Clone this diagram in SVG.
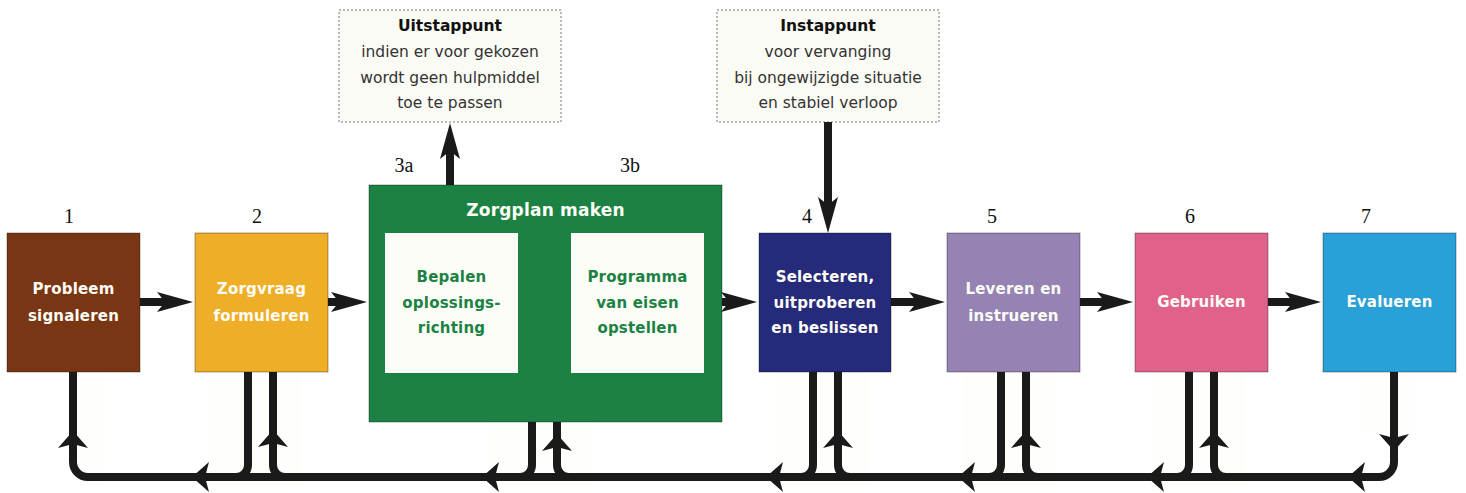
<svg xmlns="http://www.w3.org/2000/svg" width="1466" height="493" viewBox="0 0 1466 493">
<style>
  .box{stroke:#000;stroke-opacity:.35;stroke-width:1}
  .lbl{font-family:"DejaVu Sans","Verdana",sans-serif;font-weight:bold;font-size:15px;fill:#fdfdf6;text-anchor:middle;letter-spacing:0.2px}
  .glbl{font-family:"DejaVu Sans","Verdana",sans-serif;font-weight:bold;font-size:15px;fill:#1b8244;text-anchor:middle;letter-spacing:0.2px}
  .num{font-family:"Liberation Serif","Times New Roman",serif;font-size:20px;fill:#111;text-anchor:middle}
  .call{fill:#fbfbf5;stroke:#777;stroke-width:1;stroke-dasharray:2 2}
  .ct{font-family:"DejaVu Sans","Verdana",sans-serif;font-size:15.5px;fill:#333;text-anchor:middle}
  .cb{font-family:"DejaVu Sans","Verdana",sans-serif;font-size:15.5px;font-weight:bold;fill:#111;text-anchor:middle}
  .ln{fill:none;stroke:#1a1a1a;stroke-width:8}
  .hd{fill:#1a1a1a}
  .glow{fill:#fefefa}
</style>
<defs>
  <marker id="big" markerUnits="userSpaceOnUse" markerWidth="36" markerHeight="20" viewBox="0 0 36 20" refX="16" refY="10" orient="auto">
    <path d="M0,0 L36,10 L0,20 L8,10 Z" fill="#1a1a1a"/>
  </marker>
  <path id="sHead" d="M0,0 L15,17 L0,13 L-15,17 Z"/>
</defs>
<rect width="1466" height="493" fill="#ffffff"/>
<g id="glows">
  <rect class="glow" x="210" y="373" width="90" height="115"/>
  <rect class="glow" x="86" y="373" width="16" height="115"/>
  <rect class="glow" x="493" y="423" width="100" height="65"/>
  <rect class="glow" x="776" y="373" width="92" height="115"/>
  <rect class="glow" x="964" y="373" width="92" height="115"/>
  <rect class="glow" x="1152" y="373" width="92" height="115"/>
  <rect class="glow" x="1360" y="373" width="50" height="60"/>
</g>

<g id="callout-uitstappunt">
  <rect class="call" x="339" y="10" width="222" height="112"/>
  <text class="cb" x="450" y="31">Uitstappunt</text>
  <text class="ct" x="450" y="57">indien er voor gekozen</text>
  <text class="ct" x="450" y="83">wordt geen hulpmiddel</text>
  <text class="ct" x="450" y="108">toe te passen</text>
</g>
<g id="callout-instappunt">
  <rect class="call" x="717" y="10" width="222" height="112"/>
  <text class="cb" x="828" y="31">Instappunt</text>
  <text class="ct" x="828" y="57">voor vervanging</text>
  <text class="ct" x="828" y="83">bij ongewijzigde situatie</text>
  <text class="ct" x="828" y="108">en stabiel verloop</text>
</g>

<g id="node-1">
  <text class="num" x="69" y="223">1</text>
  <rect class="box" x="7" y="233" width="133" height="139" fill="#793614"/>
  <text class="lbl" x="73.5" y="294">Probleem</text>
  <text class="lbl" x="73.5" y="321">signaleren</text>
</g>
<g id="node-2">
  <text class="num" x="257" y="223">2</text>
  <rect class="box" x="195" y="233" width="133" height="139" fill="#efae27"/>
  <text class="lbl" x="261.5" y="294">Zorgvraag</text>
  <text class="lbl" x="261.5" y="321">formuleren</text>
</g>
<g id="node-3">
  <text class="num" x="404" y="172">3a</text>
  <text class="num" x="630" y="172">3b</text>
  <rect class="box" x="369" y="185" width="353" height="237" fill="#1b8244"/>
  <text class="lbl" x="545.5" y="216" style="font-size:17px">Zorgplan maken</text>
  <g id="node-3a">
    <rect x="385" y="233" width="133" height="140" fill="#fdfdf7"/>
    <text class="glbl" x="451.5" y="282">Bepalen</text>
    <text class="glbl" x="451.5" y="308">oplossings-</text>
    <text class="glbl" x="451.5" y="333">richting</text>
  </g>
  <g id="node-3b">
    <rect x="571" y="233" width="133" height="140" fill="#fdfdf7"/>
    <text class="glbl" x="637.5" y="282">Programma</text>
    <text class="glbl" x="637.5" y="308">van eisen</text>
    <text class="glbl" x="637.5" y="333">opstellen</text>
  </g>
</g>
<g id="node-4">
  <text class="num" x="807" y="223">4</text>
  <rect class="box" x="759" y="233" width="132" height="139" fill="#252a7a"/>
  <text class="lbl" x="825" y="282">Selecteren,</text>
  <text class="lbl" x="825" y="308">uitproberen</text>
  <text class="lbl" x="825" y="333">en beslissen</text>
</g>
<g id="node-5">
  <text class="num" x="992" y="223">5</text>
  <rect class="box" x="947" y="233" width="133" height="139" fill="#9583b4"/>
  <text class="lbl" x="1013.5" y="294">Leveren en</text>
  <text class="lbl" x="1013.5" y="321">instrueren</text>
</g>
<g id="node-6">
  <text class="num" x="1190" y="223">6</text>
  <rect class="box" x="1135" y="233" width="133" height="139" fill="#e0628a"/>
  <text class="lbl" x="1201.5" y="307">Gebruiken</text>
</g>
<g id="node-7">
  <text class="num" x="1366" y="223">7</text>
  <rect class="box" x="1323" y="233" width="133" height="139" fill="#2aa0d8"/>
  <text class="lbl" x="1389.5" y="307">Evalueren</text>
</g>

<g id="connectors">
  <line class="ln" x1="140" y1="302" x2="173" y2="302" marker-end="url(#big)"/>
  <line class="ln" x1="328" y1="302" x2="347" y2="302" marker-end="url(#big)"/>
  <line class="ln" x1="722" y1="302" x2="737" y2="302" marker-end="url(#big)"/>
  <line class="ln" x1="891" y1="302" x2="925" y2="302" marker-end="url(#big)"/>
  <line class="ln" x1="1080" y1="302" x2="1113" y2="302" marker-end="url(#big)"/>
  <line class="ln" x1="1268" y1="302" x2="1301" y2="302" marker-end="url(#big)"/>
  <line class="ln" x1="450" y1="185" x2="450" y2="143" stroke-width="7" marker-end="url(#big)"/>
  <line class="ln" x1="828" y1="122" x2="828" y2="213" stroke-width="7" marker-end="url(#big)"/>
  <path class="ln" d="M1394,372 V462 A15,15 0 0 1 1379,477 H88 A15,15 0 0 1 73,462 V372"/>
  <path class="ln" d="M248,372 V465 A12,12 0 0 1 236,477"/>
  <path class="ln" d="M285,477 A12,12 0 0 1 273,465 V372"/>
  <path class="ln" d="M532,422 V465 A12,12 0 0 1 520,477"/>
  <path class="ln" d="M569,477 A12,12 0 0 1 557,465 V422"/>
  <path class="ln" d="M813,372 V465 A12,12 0 0 1 801,477"/>
  <path class="ln" d="M850,477 A12,12 0 0 1 838,465 V372"/>
  <path class="ln" d="M1001,372 V465 A12,12 0 0 1 989,477"/>
  <path class="ln" d="M1038,477 A12,12 0 0 1 1026,465 V372"/>
  <path class="ln" d="M1189,372 V465 A12,12 0 0 1 1177,477"/>
  <path class="ln" d="M1226,477 A12,12 0 0 1 1214,465 V372"/>
  <use href="#sHead" class="hd" transform="translate(73,431)"/>
  <use href="#sHead" class="hd" transform="translate(273,430)"/>
  <use href="#sHead" class="hd" transform="translate(557,434)"/>
  <use href="#sHead" class="hd" transform="translate(838,431)"/>
  <use href="#sHead" class="hd" transform="translate(1026,431)"/>
  <use href="#sHead" class="hd" transform="translate(1214,431)"/>
  <use href="#sHead" class="hd" transform="translate(1394,451) rotate(180)"/>
  <use href="#sHead" class="hd" transform="translate(192,477) rotate(-90)"/>
  <use href="#sHead" class="hd" transform="translate(482,477) rotate(-90)"/>
  <use href="#sHead" class="hd" transform="translate(766,477) rotate(-90)"/>
  <use href="#sHead" class="hd" transform="translate(958,477) rotate(-90)"/>
  <use href="#sHead" class="hd" transform="translate(1147,477) rotate(-90)"/>
  <use href="#sHead" class="hd" transform="translate(1348,477) rotate(-90)"/>
</g>
</svg>
